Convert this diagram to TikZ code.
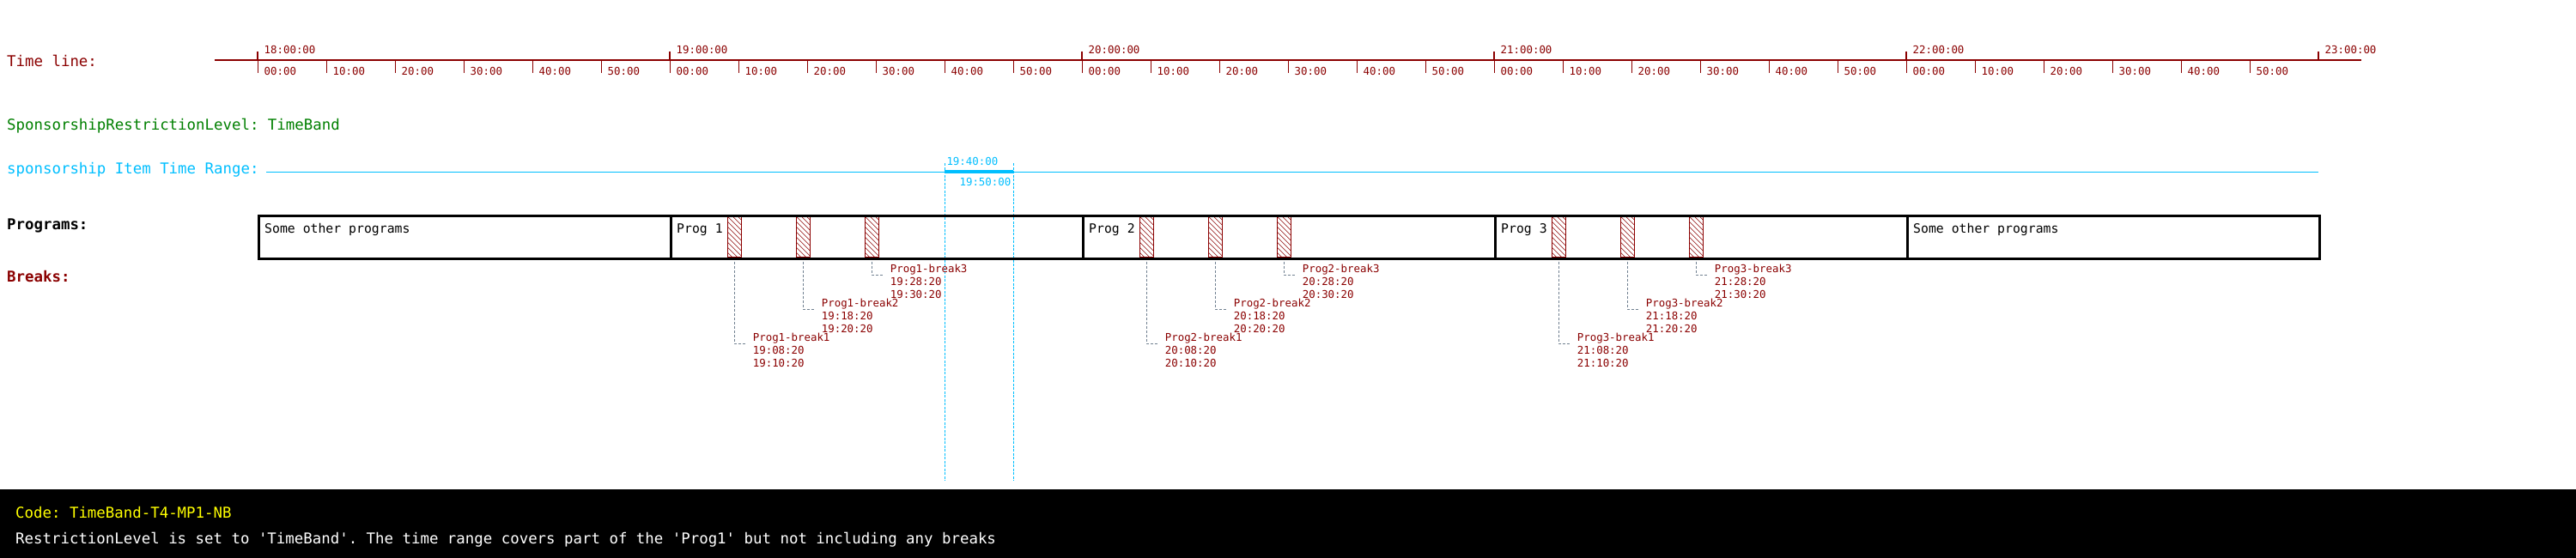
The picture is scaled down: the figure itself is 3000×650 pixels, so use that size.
\documentclass[tikz,border=0pt]{standalone}
\usepackage{fontspec}
\setmainfont{DejaVu Sans Mono}
\setmonofont{DejaVu Sans Mono}
\definecolor{tlred}{HTML}{8B0000}
\definecolor{skyb}{HTML}{00BFFF}
\definecolor{lvlgreen}{HTML}{008000}
\definecolor{slgray}{HTML}{708090}
\definecolor{codeyellow}{HTML}{FFFF00}
\newcommand\myBig{\ttfamily\fontsize{17.4pt}{21pt}\selectfont}
\newcommand\myMid{\ttfamily\fontsize{14.8pt}{18pt}\selectfont}
\newcommand\mySmall{\ttfamily\fontsize{12.4pt}{15pt}\selectfont}
\tikzset{
  mainlbl/.style={anchor=base west, inner sep=0pt, font=\myBig},
  ticklbl/.style={anchor=base west, inner sep=0pt, font=\mySmall, text=tlred},
  rangelbl/.style={inner sep=0pt, font=\mySmall, text=skyb},
  progbox/.style={draw=black, line width=2.5pt, minimum width=480pt, minimum height=50pt, inner sep=0pt, anchor=north west},
  proglbl/.style={anchor=base west, inner sep=0pt, font=\myMid, text=black},
  brkbox/.style={draw=tlred, line width=1pt, minimum width=16pt, minimum height=47pt, inner sep=0pt, anchor=north west, fill=white,
    path picture={\foreach \k in {-6,...,12}{\draw[tlred, line width=0.6pt] ([shift={(-30,\k*6-30)}]path picture bounding box.north west) -- ++(100,100);}}},
  brklbl/.style={anchor=north west, inner sep=0pt, font=\mySmall, text=tlred, align=left},
  conn/.style={draw=slgray, line width=1pt, dash pattern=on 3pt off 2pt},
  rangeln/.style={draw=skyb, line width=1pt, dash pattern=on 3pt off 1.5pt},
}
\begin{document}
\begin{tikzpicture}[x=1pt,y=-1pt]
\useasboundingbox (0,0) rectangle (3000,650);
\fill[white] (0,0) rectangle (3000,650);

% ---- left labels
\node[mainlbl, text=tlred] (ltime) at (8,77.5) {Time line:};
\node[mainlbl, text=lvlgreen] (llevel) at (8,152) {SponsorshipRestrictionLevel: TimeBand};
\node[mainlbl, text=skyb] (lrange) at (8,202) {sponsorship Item Time Range:};
\node[mainlbl, text=black, font=\myBig\bfseries] (lprog) at (8,267) {Programs:};
\node[mainlbl, text=tlred, font=\myBig\bfseries] (lbrk) at (8,328) {Breaks:};

% ---- time line
\coordinate (tls) at (250,70);
\coordinate (tle) at (2749.5,70);
\draw[tlred, line width=2.3pt] (tls) -- (tle);
\foreach \h in {0,...,5}{
  \pgfmathtruncatemacro\hh{18+\h}
  \pgfmathsetmacro\hx{300+480*\h}
  \draw[tlred, line width=2.5pt] (\hx,60) -- (\hx,70);
  \node[ticklbl] (h\h) at (\hx+7.5,62.3) {\hh:00:00};
}
\foreach \i in {0,...,29}{
  \pgfmathtruncatemacro\mm{mod(\i,6)*10}
  \pgfmathsetmacro\mx{300+80*\i}
  \draw[tlred, line width=1pt] (\mx,70) -- (\mx,85.5);
  \node[ticklbl] (m\i) at (\mx+7.5,87.3) {\ifnum\mm=0 00\else\mm\fi:00};
}

% ---- sponsorship item time range
\coordinate (rs) at (310,200);
\coordinate (re) at (2700,200);
\draw[skyb, line width=1pt] (rs) -- (re);
\coordinate (ra) at (1100,200);
\coordinate (rb) at (1180,200);
\draw[skyb, line width=4.4pt] (ra) -- (rb);
\coordinate (rat) at (1100,190);
\coordinate (rab) at (1100,560);
\coordinate (rbt) at (1180,190);
\coordinate (rbb) at (1180,560);
\draw[rangeln] (rat) -- (rab);
\draw[rangeln] (rbt) -- (rbb);
\node[rangelbl, anchor=base west] (r1) at (1102.3,192) {19:40:00};
\node[rangelbl, anchor=base east] (r2) at (1177.5,216.7) {19:50:00};

% ---- breaks
\foreach \p/\bx in {1/780,2/1260,3/1740}{
  \pgfmathtruncatemacro\hr{18+\p}
  \foreach \b/\cy/\sm/\em in {1/400/08/10,2/360/18/20,3/320/28/30}{
    \pgfmathsetmacro\sx{\bx+(\b-1)*80+66.67}
    \pgfmathsetmacro\cx{\sx+8}
    \pgfmathsetmacro\ty{\cy-12.5}
    \node[brkbox] (b\p-\b) at (\sx,251.5) {};
    \coordinate (e\p-\b) at (\cx+14,\cy);
    \draw[conn] (b\p-\b.south) |- (e\p-\b);
    \node[brklbl] (t\p-\b) at (\cx+22,\ty) {Prog\p-break\b\\\hr:\sm:20\\\hr:\em:20};
  }
}

% ---- programs
\node[progbox] (p0) at (300,250) {};
\node[progbox] (p1) at (780,250) {};
\node[progbox] (p2) at (1260,250) {};
\node[progbox] (p3) at (1740,250) {};
\node[progbox] (p4) at (2220,250) {};
\node[proglbl] (p0l) at (308,271) {Some other programs};
\node[proglbl] (p1l) at (788,271) {Prog 1};
\node[proglbl] (p2l) at (1268,271) {Prog 2};
\node[proglbl] (p3l) at (1748,271) {Prog 3};
\node[proglbl] (p4l) at (2228,271) {Some other programs};

% ---- bottom band
\fill[black] (0,570) rectangle (3000,650);
\node[mainlbl, text=codeyellow] (code) at (18,603) {Code: TimeBand-T4-MP1-NB};
\node[mainlbl, text=white] (desc) at (18,633) {RestrictionLevel is set to \textquotesingle TimeBand\textquotesingle. The time range covers part of the \textquotesingle Prog1\textquotesingle\ but not including any breaks};
\end{tikzpicture}
\end{document}
